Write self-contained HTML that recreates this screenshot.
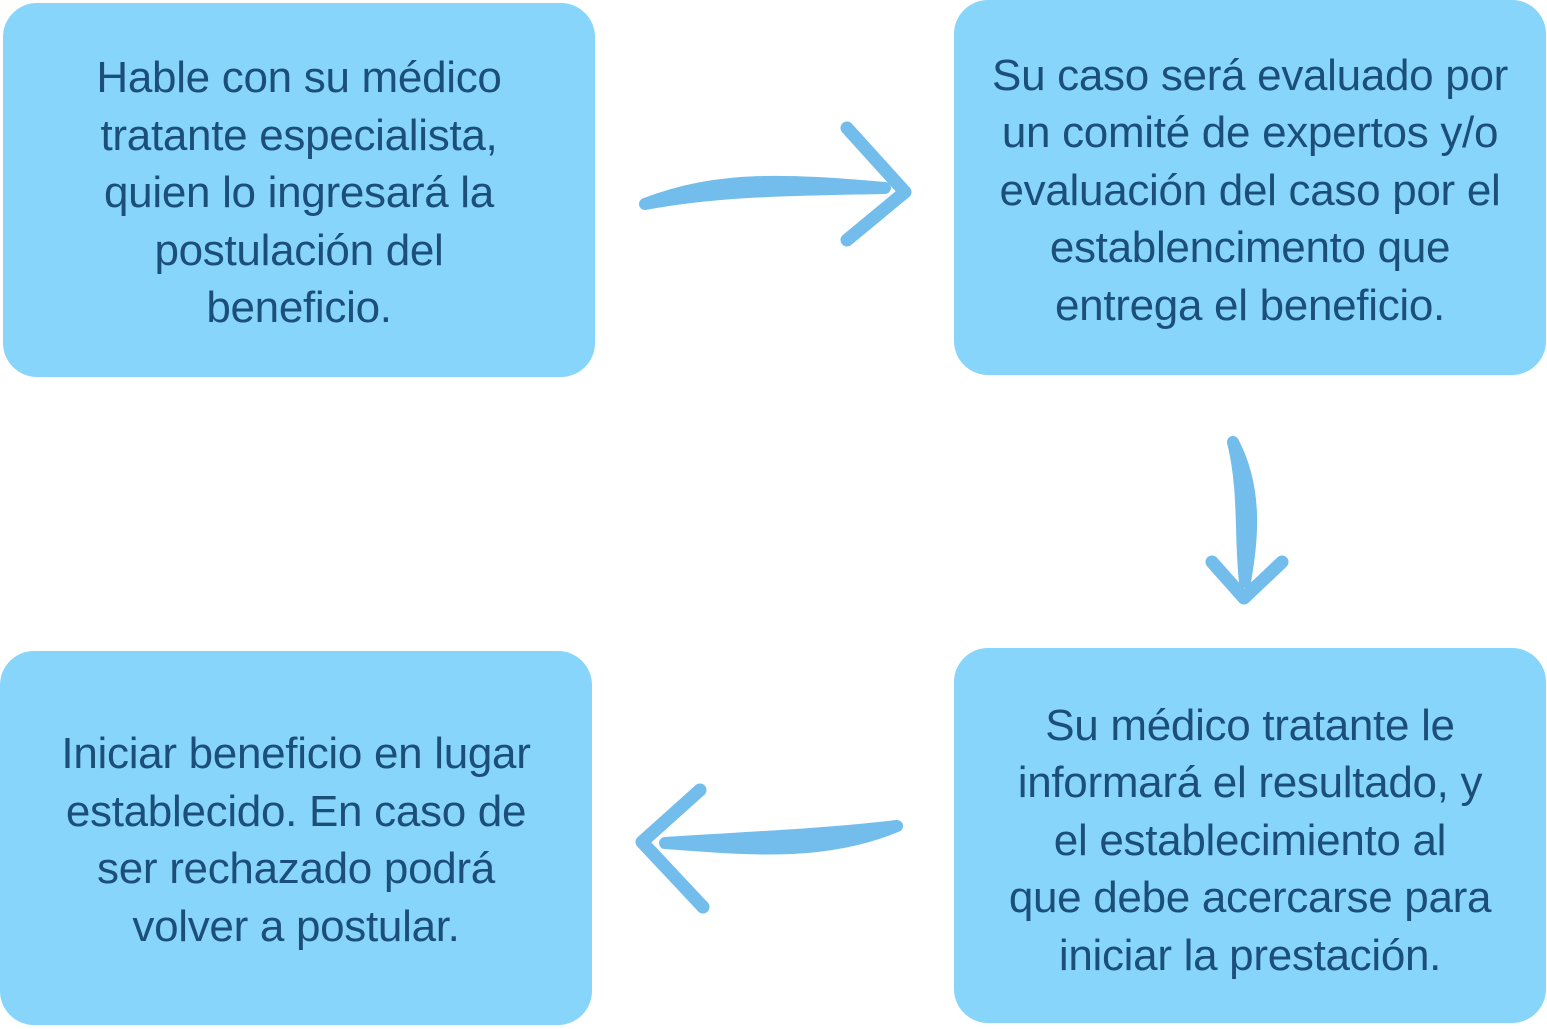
<!DOCTYPE html>
<html><head><meta charset="utf-8"><style>
body{margin:0;width:1547px;height:1029px;background:#fff;position:relative;overflow:hidden;font-family:"Liberation Sans",sans-serif;}
.b{position:absolute;background:#87d5fb;border-radius:34px;display:flex;align-items:center;justify-content:center;text-align:center;color:#1b4f7a;font-size:44px;line-height:57.5px;letter-spacing:-0.3px;white-space:nowrap;}
svg{position:absolute;left:0;top:0}
</style></head><body>
<div class="b" style="left:3px;top:3px;width:592px;height:374px;"><div style="margin-top:6px">Hable con su médico<br>tratante especialista,<br>quien lo ingresará la<br>postulación del<br>beneficio.</div></div>
<div class="b" style="left:954px;top:0;width:592px;height:375px;"><div style="margin-top:6px">Su caso será evaluado por<br>un comité de expertos y/o<br>evaluación del caso por el<br>establencimento que<br>entrega el beneficio.</div></div>
<div class="b" style="left:0;top:651px;width:592px;height:374px;"><div style="margin-top:4px">Iniciar beneficio en lugar<br>establecido. En caso de<br>ser rechazado podrá<br>volver a postular.</div></div>
<div class="b" style="left:954px;top:648px;width:592px;height:375px;"><div style="margin-top:10px">Su médico tratante le<br>informará el resultado, y<br>el establecimiento al<br>que debe acercarse para<br>iniciar la prestación.</div></div>
<svg width="1547" height="1029" fill="none" stroke="#72bdeb" stroke-linecap="round" stroke-linejoin="round">
<path d="M645 204 C720 175 790 180 885 188 C790 190 720 190 645 204Z" fill="#72bdeb" stroke-width="12"/>
<path d="M847 128 L905 192 L847 240" stroke-width="13"/>
<path d="M1233 442 C1258 490 1252 540 1245 582 C1240 540 1245 490 1233 442Z" fill="#72bdeb" stroke-width="12"/>
<path d="M1212 562 L1244 598 L1282 562" stroke-width="13"/>
<path d="M897 826 C820 858 740 848 665 843 C740 838 820 835 897 826Z" fill="#72bdeb" stroke-width="12"/>
<path d="M700 790 L642 842 L703 907" stroke-width="13"/>
</svg>
</body></html>
